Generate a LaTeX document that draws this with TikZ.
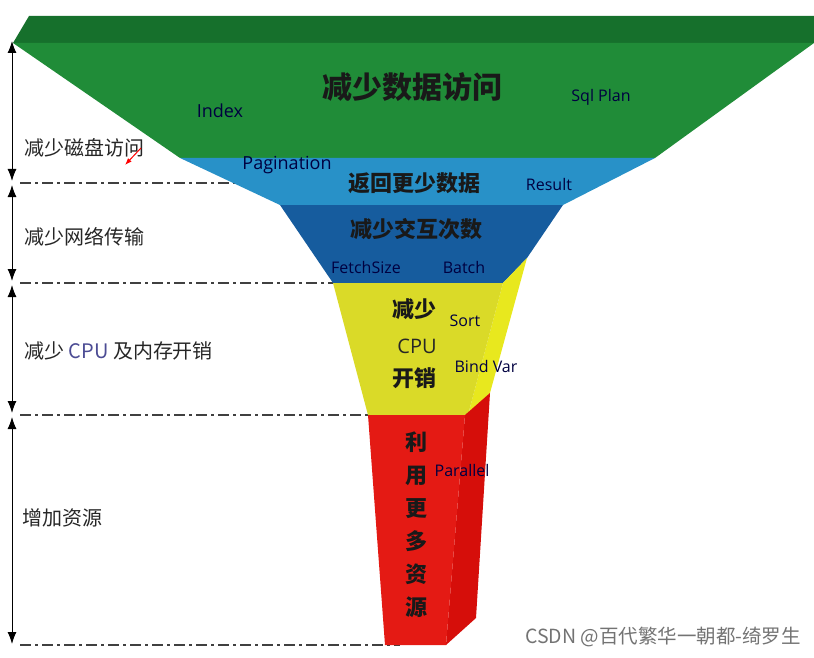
\documentclass[tikz,border=0pt]{standalone}
\usepackage{fontspec}
\setmainfont{Open Sans}
\newfontfamily\cjk{Noto Sans CJK SC}
\usetikzlibrary{arrows,arrows.meta}
\definecolor{grntop}{RGB}{22,112,44}
\definecolor{grnfront}{RGB}{32,140,56}
\definecolor{ltblue}{RGB}{40,145,200}
\definecolor{dkblue}{RGB}{22,92,158}
\definecolor{yelfront}{RGB}{218,218,40}
\definecolor{yelside}{RGB}{232,232,30}
\definecolor{redfront}{RGB}{228,26,20}
\definecolor{redside}{RGB}{214,14,10}
\tikzstyle{leftlbl}=[anchor=west, inner sep=0pt, font=\cjk\fontsize{20}{24}\selectfont, text=black!85]
\tikzstyle{biglbl}=[inner sep=0pt, font=\cjk\bfseries\fontsize{22}{26}\selectfont, text=black!90]
\tikzstyle{enlbl}=[inner sep=0pt, font=\fontsize{16}{18}\selectfont, text=black!75!blue]
\tikzstyle{cutline}=[draw=black!75, line width=1.3pt, dash pattern=on 11pt off 4pt on 3pt off 4pt]
\tikzstyle{dimarrow}=[draw, line width=1pt, <->]
\newcommand{\lbl}{\node[leftlbl]}
\newcommand{\hint}{\node[enlbl]}

\begin{document}
\begin{tikzpicture}[x=1pt, y=-1pt, >={Latex[length=12pt,width=9pt]}]
\useasboundingbox (0,0) rectangle (814,658);
\coordinate (t0) at (12,41);
\coordinate (t1) at (12,181);
\coordinate (t2) at (12,185);
\coordinate (t3) at (12,281);
\coordinate (t4) at (12,285);
\coordinate (t5) at (12,413);
\coordinate (t6) at (12,417);
\coordinate (t7) at (12,644);
\coordinate (c1) at (20,183);
\coordinate (e1) at (240,183);
\coordinate (c2) at (20,283);
\coordinate (e2) at (340,283);
\coordinate (c3) at (20,415);
\coordinate (e3) at (375,415);
\coordinate (c4) at (20,645);
\coordinate (e4) at (400,645);
\path
(c1) edge[cutline] (e1)
(c2) edge[cutline] (e2)
(c3) edge[cutline] (e3)
(c4) edge[cutline] (e4)
;
\fill[grntop] (29,16) -- (814,16) -- (814,43) -- (13,43) -- cycle;
\fill[grnfront] (13,43) -- (814,43) -- (655,158) -- (180,158) -- cycle;
\fill[ltblue] (180,158) -- (655,158) -- (563,205) -- (280,205) -- cycle;
\fill[dkblue] (280,205) -- (563,205) -- (527,258) -- (503,283) -- (333,283) -- cycle;
\fill[yelside] (503,283) -- (527,258) -- (490,393) -- (468,415) -- cycle;
\fill[yelfront] (333,283) -- (503,283) -- (468,415) -- (368,415) -- cycle;
\fill[redside] (465,415) -- (490,393) -- (476,618) -- (446,645) -- cycle;
\fill[redfront] (368,415) -- (465,415) -- (446,645) -- (385,645) -- cycle;
\node[biglbl, font=\cjk\bfseries\fontsize{30}{34}\selectfont] (access) at (412,87) {减少数据访问};
\hint[font=\fontsize{18}{20}\selectfont] (index) at (220,111) {Index};
\hint (sqlplan) at (601,97) {Sql Plan};
\hint[font=\fontsize{18}{20}\selectfont] (page) at (287,165) {Pagination};
\node[biglbl] (fewer) at (414,183) {返回更少数据};
\hint (result) at (549,184) {Result};
\node[biglbl] (trips) at (416,229) {减少交互次数};
\hint (fetch) at (366,267) {FetchSize};
\hint (batch) at (464,267) {Batch};
\node[biglbl] (cpua) at (414,309) {减少};
\hint (sort) at (465,321) {Sort};
\node[inner sep=0pt, font=\fontsize{20}{22}\selectfont, text=black!85] (cpub) at (417,346) {CPU};
\node[biglbl] (cpuc) at (414,378) {开销};
\hint (bind) at (486,366) {Bind Var};
\node[biglbl, align=center, font=\cjk\bfseries\fontsize{22}{33}\selectfont] (more) at (416,525) {利\\用\\更\\多\\资\\源};
\hint (para) at (462,470) {Parallel};
\lbl (disk) at (24,148) {减少磁盘访问};
\lbl (net) at (24,237) {减少网络传输};
\lbl (mem) at (24,351) {减少 {\color{blue!40!black!70}CPU} 及内存开销};
\lbl (res) at (22,518) {增加资源};
\node[anchor=east, inner sep=0pt, font=\cjk\fontsize{19.5}{22}\selectfont, text=black!55] (csdn) at (801,637) {CSDN @百代繁华一朝都-绮罗生};
\coordinate (p0) at (141,148);
\coordinate (p1) at (125,165);
\path
(t0) edge[dimarrow] (t1)
(t2) edge[dimarrow] (t3)
(t4) edge[dimarrow] (t5)
(t6) edge[dimarrow] (t7)
(p0) edge[draw=red, line width=1pt, -{Latex[length=7pt,width=5pt]}] (p1)
;
\end{tikzpicture}
\end{document}
